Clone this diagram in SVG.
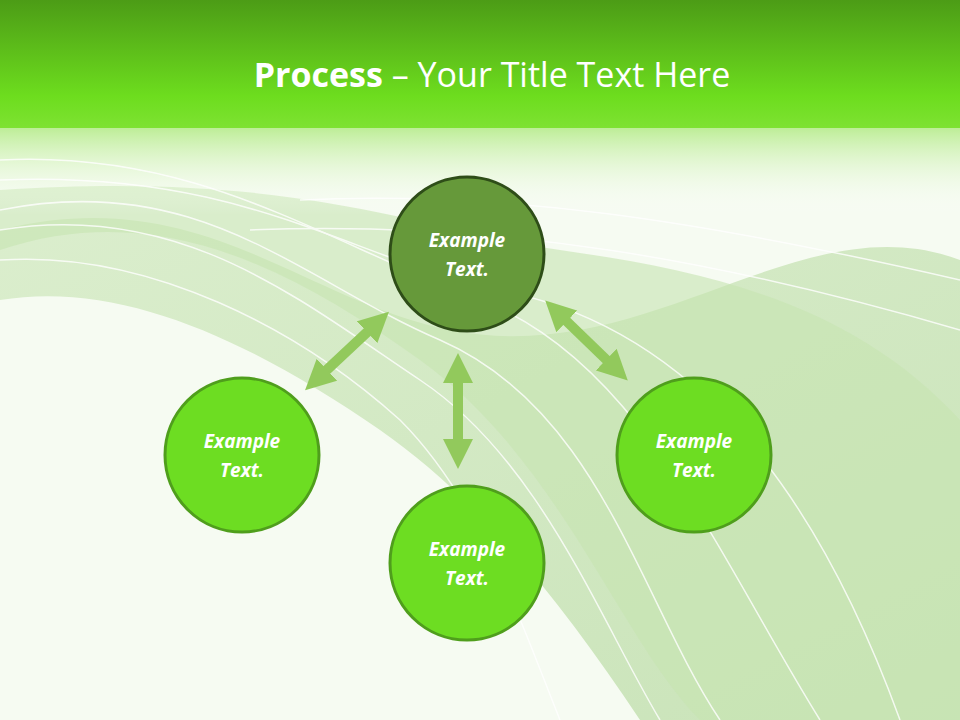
<svg xmlns="http://www.w3.org/2000/svg" width="960" height="720" viewBox="0 0 960 720">
<defs>
<linearGradient id="hdr" x1="0" y1="0" x2="0" y2="1">
<stop offset="0" stop-color="#4c9c16"/><stop offset="0.75" stop-color="#6ddd1e"/><stop offset="1" stop-color="#7ee232"/>
</linearGradient>
<linearGradient id="fade" x1="0" y1="0" x2="0" y2="1">
<stop offset="0" stop-color="#b9ec90"/><stop offset="1" stop-color="#ffffff" stop-opacity="0"/>
</linearGradient>
<linearGradient id="band" x1="0" y1="0" x2="1" y2="1">
<stop offset="0" stop-color="#cfe8bd"/><stop offset="1" stop-color="#b6d9a0"/>
</linearGradient>
<marker id="ah" viewBox="0 0 10 10" refX="5" refY="5" markerWidth="3" markerHeight="3" orient="auto-start-reverse">
<path d="M0,0 L10,5 L0,10 z" fill="#92c95c"/>
</marker>
<style>
.ring{stroke-width:3}
.lt{fill:#fff;font-family:"Open Sans","Liberation Sans",sans-serif;font-weight:bold;font-style:italic;font-size:19px;text-anchor:middle}
.cn{stroke:#92c95c;stroke-width:10;fill:none;marker-start:url(#ah);marker-end:url(#ah)}
.wl{fill:none;stroke:#fff;stroke-width:1.5;opacity:0.8}
</style>
</defs>
<rect width="960" height="720" fill="#f6fbf2"/>
<path d="M0,230 C200,180 300,300 450,330 C650,370 800,200 960,260 L960,720 L640,720 C560,600 480,500 380,430 C250,340 120,280 0,300 z" fill="url(#band)" opacity="0.7"/>
<path d="M0,250 C150,200 280,260 420,360 C560,460 620,640 700,720 L960,720 L960,420 C850,300 700,270 560,250 C420,230 300,170 0,190 z" fill="#c6e4b0" opacity="0.6"/>
<rect y="125" width="960" height="90" fill="url(#fade)"/>
<g class="wl">
<path d="M0,210 C200,170 300,280 440,340 C600,410 640,600 720,720"/>
<path d="M0,230 C180,200 300,300 420,380 C540,460 600,620 660,720"/>
<path d="M0,160 C200,150 320,240 480,300 C640,360 720,560 820,720"/>
<path d="M0,180 C250,170 350,260 500,290 C700,330 820,500 900,720"/>
<path d="M0,260 C150,250 300,330 400,420 C480,500 520,620 560,720"/>
<path d="M300,200 C500,190 700,220 960,280"/>
<path d="M250,230 C500,220 720,260 960,330"/>
</g>
<rect width="960" height="128" fill="url(#hdr)"/>
<text x="492" y="87" text-anchor="middle" font-family="'Open Sans','Liberation Sans',sans-serif" font-size="34" fill="#fff"><tspan font-weight="bold">Process</tspan> – Your Title Text Here</text>
<g id="connectors">
<line class="cn" x1="316" y1="380" x2="378" y2="322"/>
<line class="cn" x1="556" y1="311" x2="617" y2="370"/>
<line class="cn" x1="458" y1="368" x2="458" y2="454"/>
</g>
<g id="n1"><circle class="ring" cx="467" cy="254" r="77" fill="#66993a" stroke="#2e4d18"/><text class="lt" x="467" y="247">Example</text><text class="lt" x="467" y="276">Text.</text></g>
<g id="n2"><circle class="ring" cx="242" cy="455" r="77" fill="#6ddd22" stroke="#4f9e1c"/><text class="lt" x="242" y="448">Example</text><text class="lt" x="242" y="477">Text.</text></g>
<g id="n3"><circle class="ring" cx="694" cy="455" r="77" fill="#6ddd22" stroke="#4f9e1c"/><text class="lt" x="694" y="448">Example</text><text class="lt" x="694" y="477">Text.</text></g>
<g id="n4"><circle class="ring" cx="467" cy="563" r="77" fill="#6ddd22" stroke="#4f9e1c"/><text class="lt" x="467" y="556">Example</text><text class="lt" x="467" y="585">Text.</text></g>
</svg>
